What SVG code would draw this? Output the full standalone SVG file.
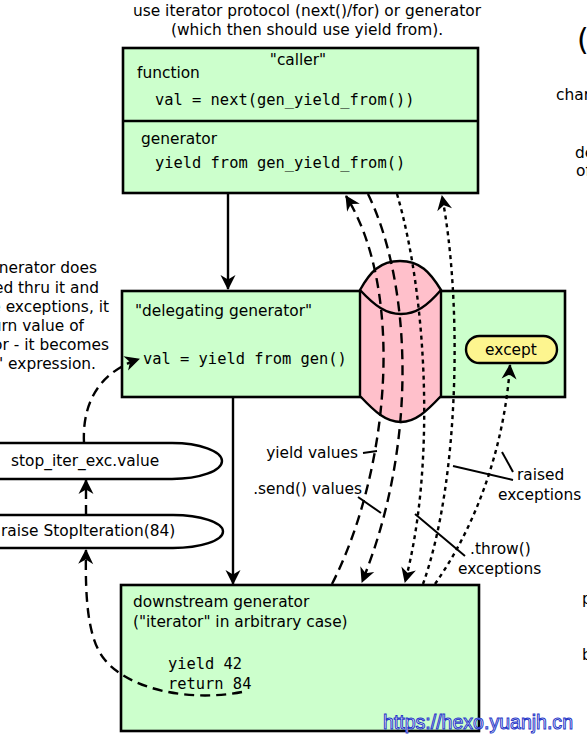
<svg xmlns="http://www.w3.org/2000/svg" width="587" height="747" viewBox="0 0 587 747">
<style>
text{font-family:"DejaVu Sans","Noto Sans",sans-serif;font-size:15.4px;fill:#000}
.mono{font-family:"DejaVu Sans Mono","Liberation Mono",monospace;font-size:15.4px}
.box{fill:#ccffcc;stroke:#000;stroke-width:2.6}
.pill{fill:#fff;stroke:#000;stroke-width:2.4}
.cyl{fill:#ffc0cb;stroke:#000;stroke-width:2.4;stroke-linejoin:round}
.solid{fill:none;stroke:#000;stroke-width:2.4}
.dash{fill:none;stroke:#000;stroke-width:2.4;stroke-dasharray:10,6}
.dot{fill:none;stroke:#000;stroke-width:2.4;stroke-dasharray:4,4}
.lead{fill:none;stroke:#000;stroke-width:2}
.wm{font-family:"Liberation Sans",sans-serif;font-size:20px;fill:#fff;stroke:#2838c8;stroke-width:1}
</style>
<defs>
<marker id="ah" markerUnits="userSpaceOnUse" markerWidth="20" markerHeight="20" refX="0" refY="0" orient="auto" overflow="visible">
<path d="M1,0 L-14,-7.5 L-9.5,0 L-14,7.5 Z" fill="#000"/>
</marker>
</defs>

<g id="top-note">
<text x="307" y="16" text-anchor="middle">use iterator protocol (next()/for) or generator</text>
<text x="307" y="35" text-anchor="middle">(which then should use yield from).</text>
</g>

<g id="left-note">
<text x="97" y="273" text-anchor="end">nerator does</text>
<text x="99" y="293" text-anchor="end">ed thru it and</text>
<text x="109" y="312" text-anchor="end">e exceptions, it</text>
<text x="84" y="331" text-anchor="end">urn value of</text>
<text x="109" y="350" text-anchor="end">or - it becomes</text>
<text x="96" y="369" text-anchor="end">' expression.</text>
</g>

<g id="right-edge">
<text x="577" y="50" style="font-size:30px">(</text>
<text x="556" y="100">char</text>
<text x="575" y="158">de</text>
<text x="576" y="176">of</text>
<text x="582" y="604">p</text>
<text x="582" y="660">b</text>
</g>

<g id="caller">
<rect class="box" x="123" y="48" width="355" height="145"/>
<line class="solid" x1="123" y1="121" x2="478" y2="121"/>
<text x="298" y="65" text-anchor="middle">"caller"</text>
<text x="137" y="78">function</text>
<text class="mono" x="155" y="105">val = next(gen_yield_from())</text>
<text x="141" y="144">generator</text>
<text class="mono" x="155" y="168">yield from gen_yield_from()</text>
</g>

<g id="delegating">
<rect class="box" x="122" y="291" width="443" height="106"/>
<text x="135" y="316">"delegating generator"</text>
<text class="mono" x="143" y="364">val = yield from gen()</text>
</g>

<g id="cylinder">
<path class="cyl" d="M360,290 C370,272 380,261 400,261 C420,261 430,272 441,290 L441,396 C426,412 415,422 401,422 C386,422 375,412 360,396 Z"/>
<path class="solid" d="M360,290 C375,306 386,314 401,314 C416,314 427,306 441,290"/>
</g>

<g id="except">
<rect x="466" y="336" width="91" height="27" rx="13.5" ry="13.5" fill="#fdf58f" stroke="#000" stroke-width="2.4"/>
<text x="511" y="355" text-anchor="middle">except</text>
</g>

<g id="downstream">
<rect class="box" x="121" y="585" width="358" height="146"/>
<text x="133" y="607">downstream generator</text>
<text x="133" y="627">("iterator" in arbitrary case)</text>
<text class="mono" x="168" y="669">yield 42</text>
<text class="mono" x="168" y="689">return 84</text>
</g>

<g id="stop-iter-value">
<path class="pill" d="M-10,443 H172 A50,18 0 0 1 172,479 H-10 Z"/>
<text x="11" y="466">stop_iter_exc.value</text>
</g>

<g id="raise-stop">
<path class="pill" d="M-10,515 H173 A50,16.5 0 0 1 173,548 H-10 Z"/>
<text x="1" y="536">raise StopIteration(84)</text>
</g>

<g id="connectors">
<line class="solid" x1="228" y1="193" x2="228" y2="289" marker-end="url(#ah)"/>
<line class="solid" x1="233" y1="397" x2="233" y2="584" marker-end="url(#ah)"/>
<path class="dash" d="M332,584 C390,470 405,290 346,196" marker-end="url(#ah)"/>
<path class="dash" d="M368,194 C410,280 420,440 362,582" marker-end="url(#ah)"/>
<path class="dot" d="M397,194 C428,300 435,470 405,582" marker-end="url(#ah)"/>
<path class="dot" d="M423,584 C460,480 462,300 442,196" marker-end="url(#ah)"/>
<path class="dot" d="M435,584 C480,520 505,440 510,365" marker-end="url(#ah)"/>
<path class="dash" d="M242,692 C190,702 130,690 105,660 C88,640 85,600 86,550" marker-end="url(#ah)"/>
<line class="dash" x1="86" y1="515" x2="86" y2="480" marker-end="url(#ah)"/>
<path class="dash" d="M84,443 C82,402 100,372 139,359" marker-end="url(#ah)"/>
</g>

<g id="labels">
<text x="358" y="458" text-anchor="end">yield values</text>
<line class="lead" x1="363" y1="453" x2="377" y2="451"/>
<text x="362" y="494" text-anchor="end">.send() values</text>
<line class="lead" x1="358" y1="497" x2="381" y2="513"/>
<text x="517" y="480">raised</text>
<text x="498" y="500">exceptions</text>
<line class="lead" x1="513" y1="480" x2="453" y2="466"/>
<line class="lead" x1="513" y1="472" x2="502" y2="452"/>
<text x="470" y="554">.throw()</text>
<text x="458" y="574">exceptions</text>
<line class="lead" x1="415" y1="514" x2="465" y2="556"/>
</g>

<g id="watermark">
<text class="wm" x="383" y="729" textLength="190" lengthAdjust="spacingAndGlyphs">https://hexo.yuanjh.cn</text>
</g>
</svg>
